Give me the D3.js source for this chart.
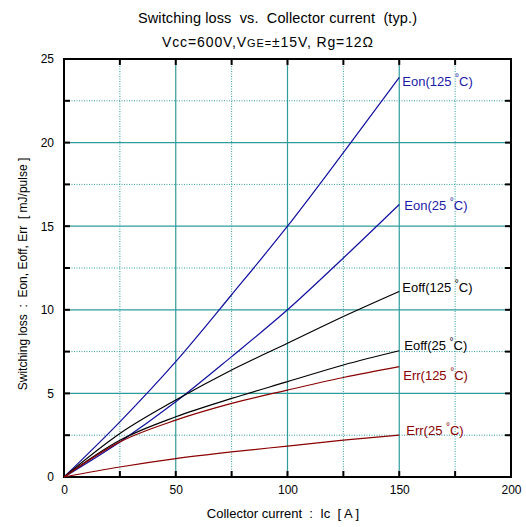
<!DOCTYPE html>
<html><head><meta charset="utf-8">
<script src="https://cdn.jsdelivr.net/npm/d3@7"></script>
<style>body{margin:0;background:#fff;}svg{display:block;font-family:"Liberation Sans",Arial,sans-serif;}text{white-space:pre;}</style>
</head><body>
<svg id="c" width="526" height="527"></svg>
<script>
const currents = [0, 25, 50, 75, 100, 125, 150];
const eon125 = [0, 3.3, 6.9, 10.9, 15.0, 19.4, 23.9];
const eon25 = [0, 2.1, 4.5, 7.2, 10.0, 13.1, 16.3];
const eoff125 = [0, 2.6, 4.6, 6.4, 8.0, 9.6, 11.1];
const eoff25 = [0, 2.2, 3.6, 4.7, 5.7, 6.7, 7.55];
const err125 = [0, 2.1, 3.4, 4.4, 5.2, 5.95, 6.6];
const err25 = [0, 0.6, 1.1, 1.5, 1.85, 2.2, 2.5];
const seriesNames = ["Eon(125", "Eon(25", "Eoff(125", "Eoff(25", "Err(125", "Err(25"];
const seriesColors = ["#1010a0", "#1010a0", "#000000", "#000000", "#8b0000", "#8b0000"];
const xTicks = [0, 50, 100, 150, 200];
const yTicks = [0, 5, 10, 15, 20, 25];
const xMinor = [25, 75, 125, 175];
const yMinor = [2.5, 7.5, 12.5, 17.5, 22.5];

const seriesVals = [eon125, eon25, eoff125, eoff25, err125, err25];
const labelOffsets = [[3, 5], [5, 2], [3, -3], [5, -5], [4, 9], [7, -4]];

const svg = d3.select("#c");
const x = d3.scaleLinear().domain([0, 200]).range([64, 511]);
const y = d3.scaleLinear().domain([0, 25]).range([477, 59]);
const grid = "#2e9c9c";

// grid
const g = svg.append("g");
g.selectAll(".gx").data(xTicks.slice(1, -1)).join("line")
  .attr("x1", d => x(d)).attr("x2", d => x(d)).attr("y1", y(0)).attr("y2", y(25))
  .attr("stroke", grid).attr("stroke-width", 1.2);
g.selectAll(".gy").data(yTicks.slice(1, -1)).join("line")
  .attr("y1", d => y(d)).attr("y2", d => y(d)).attr("x1", x(0)).attr("x2", x(200))
  .attr("stroke", grid).attr("stroke-width", 1.2);
g.selectAll(".mx").data(xMinor).join("line")
  .attr("x1", d => x(d)).attr("x2", d => x(d)).attr("y1", y(0)).attr("y2", y(25))
  .attr("stroke", grid).attr("stroke-width", 1).attr("stroke-dasharray", "1,1.5");
g.selectAll(".my").data(yMinor).join("line")
  .attr("y1", d => y(d)).attr("y2", d => y(d)).attr("x1", x(0)).attr("x2", x(200))
  .attr("stroke", grid).attr("stroke-width", 1).attr("stroke-dasharray", "1,1.5");

// ticks (inward on all sides)
const allX = xTicks.concat(xMinor), allY = yTicks.concat(yMinor);
const tk = svg.append("g").attr("stroke", "#000").attr("stroke-width", 2);
allX.forEach(v => {
  tk.append("line").attr("x1", x(v)).attr("x2", x(v)).attr("y1", y(0)).attr("y2", y(0) - 6);
  tk.append("line").attr("x1", x(v)).attr("x2", x(v)).attr("y1", y(25)).attr("y2", y(25) + 6);
});
allY.forEach(v => {
  tk.append("line").attr("y1", y(v)).attr("y2", y(v)).attr("x1", x(0)).attr("x2", x(0) + 6);
  tk.append("line").attr("y1", y(v)).attr("y2", y(v)).attr("x1", x(200)).attr("x2", x(200) - 6);
});

// frame
svg.append("rect").attr("x", x(0)).attr("y", y(25)).attr("width", x(200) - x(0)).attr("height", y(0) - y(25))
  .attr("fill", "none").attr("stroke", "#000").attr("stroke-width", 2);

// axes labels
const xAxis = d3.axisBottom(x).tickValues(xTicks).tickSize(0).tickPadding(8);
const xa = svg.append("g").attr("transform", `translate(0,${y(0)})`).call(xAxis);
xa.select(".domain").remove();
xa.selectAll("text").attr("font-size", 12).attr("fill", "#000").attr("font-family", "Liberation Sans, Arial, sans-serif");
const yAxis = d3.axisLeft(y).tickValues(yTicks).tickSize(0).tickPadding(10);
const ya = svg.append("g").attr("transform", `translate(${x(0)},0)`).call(yAxis);
ya.select(".domain").remove();
ya.selectAll("text").attr("font-size", 12).attr("fill", "#000").attr("font-family", "Liberation Sans, Arial, sans-serif");

// curves
const line = d3.line().x((d, i) => x(currents[i])).y(d => y(d)).curve(d3.curveMonotoneX);
seriesVals.forEach((vals, k) => {
  svg.append("path").attr("d", line(vals)).attr("fill", "none")
    .attr("stroke", seriesColors[k]).attr("stroke-width", 1.2);
  const ex = x(currents[currents.length - 1]), ey = y(vals[vals.length - 1]);
  const [dx, dy] = labelOffsets[k];
  const t = svg.append("text").attr("x", ex + dx).attr("y", ey + dy + 4)
    .attr("font-size", 13).attr("fill", seriesColors[k] === "#1010a0" ? "#1a1aa8" : seriesColors[k]);
  t.append("tspan").text(seriesNames[k] + " ");
  t.append("tspan").attr("dy", -5).attr("font-size", 10).text("°");
  t.append("tspan").attr("dy", 5).text("C)");
});

// titles
svg.append("text").attr("x", 138).attr("y", 23).attr("font-size", 14.5)
  .attr("textLength", 279).attr("lengthAdjust", "spacing")
  .text("Switching loss  vs.  Collector current  (typ.)");
const st = svg.append("text").attr("x", 162).attr("y", 47).attr("font-size", 14)
  .attr("textLength", 211).attr("lengthAdjust", "spacing");
st.append("tspan").text("Vcc=600V,V");
st.append("tspan").attr("font-size", 11).text("GE=");
st.append("tspan").text("±15V, Rg=12Ω");

svg.append("text").attr("x", 283).attr("y", 518).attr("text-anchor", "middle").attr("font-size", 13)
  .text("Collector current  :  Ic  [ A ]");
svg.append("text").attr("transform", `translate(27,274) rotate(-90)`)
  .attr("text-anchor", "middle").attr("font-size", 12)
  .text("Switching loss  :  Eon, Eoff, Err  [ mJ/pulse ]");
</script>
</body></html>
